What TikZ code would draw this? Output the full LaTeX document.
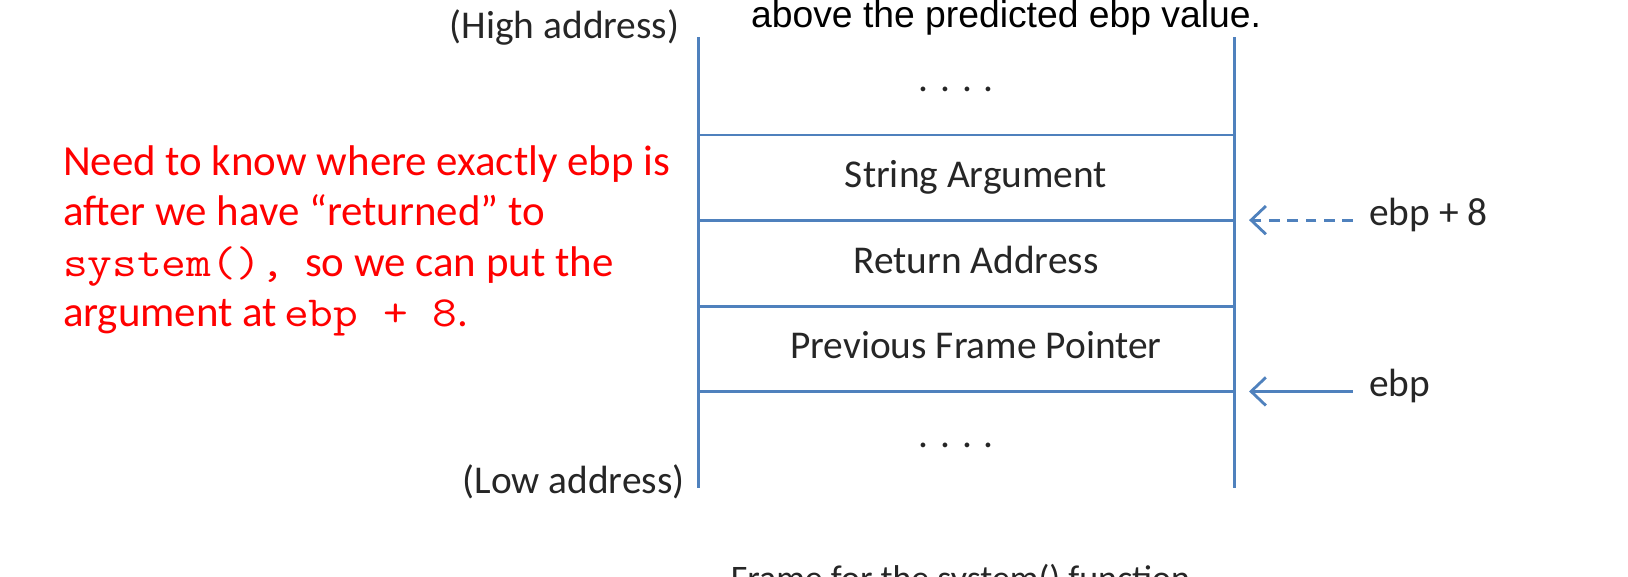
\documentclass[tikz,border=0pt]{standalone}
\usepackage{fontspec}
\setmainfont{Carlito}
\newfontfamily\arialf{Liberation Sans}
\usetikzlibrary{arrows.meta}
\definecolor{stackblue}{RGB}{79,129,189}
\definecolor{notered}{RGB}{255,0,0}
\newcommand{\cour}[1]{\scalebox{1.12}[1]{\ttfamily #1}}
\tikzset{
  stackline/.style={draw=stackblue, line width=0.8pt},
  celltext/.style={inner sep=0pt, anchor=base, font=\fontsize{11.2}{13}\selectfont, text=black!85},
  addr/.style={inner sep=0pt, anchor=base east, font=\fontsize{11.2}{13}\selectfont, text=black!85},
  ptrlbl/.style={inner sep=0pt, anchor=base west, font=\fontsize{11.2}{13}\selectfont, text=black!85},
  ptrarrow/.style={draw=stackblue, line width=0.8pt, -{Straight Barb[length=4.2pt,width=8pt,line width=0.8pt]}},
  note/.style={inner sep=0pt, anchor=base west, font=\fontsize{12.2}{14}\selectfont, text=notered},
}
\begin{document}
\begin{tikzpicture}[x=0.010383cm,y=-0.010383cm]
\useasboundingbox (0,0) rectangle (1568,555.7);
\clip (0,0) rectangle (1568,555.7);
\fill[white] (0,0) rectangle (1568,555.7);

% stack frame
\coordinate (lt) at (673,36);
\coordinate (lb) at (673,470);
\coordinate (rt) at (1189,36);
\coordinate (rb) at (1189,470);
\draw[stackline] (lt) -- (lb);
\draw[stackline] (rt) -- (rb);
\foreach \yy/\nm in {130/h1,212/h2,295/h3,377/h4}{
  \coordinate (\nm l) at (673,\yy);
  \coordinate (\nm r) at (1189,\yy);
  \draw[stackline] (\nm l) -- (\nm r);
}

\node[celltext] (dotstop) at (921,88) {. . . .};
\node[celltext] (strarg) at (940,181) {String Argument};
\node[celltext] (retaddr) at (940,263) {Return Address};
\node[celltext] (prevfp) at (940,345) {Previous Frame Pointer};
\node[celltext] (dotsbot) at (921,431) {. . . .};

\node[addr] (high) at (655,37) {(High address)};
\node[addr] (low) at (660,475) {(Low address)};

% pointers
\node[ptrlbl] (ebp8) at (1318,217) {ebp + 8};
\node[ptrlbl] (ebp) at (1318,382) {ebp};
\coordinate (a8s) at (1303,212);
\coordinate (a8e) at (1203,212);
\coordinate (a0s) at (1303,377);
\coordinate (a0e) at (1203,377);
\draw[ptrarrow, dash pattern=on 3pt off 2.2pt] (a8s) -- (a8e);
\draw[ptrarrow] (a0s) -- (a0e);

% red note
\node[note] (n1) at (60,169) {Need to know where exactly ebp is};
\node[note] (n2) at (60,217) {after we have “returned” to};
\node[note] (n3) at (60,266) {\cour{system(),}\ \ so we can put the};
\node[note] (n4) at (60,314) {argument at\,\cour{ebp + 8}.};

% clipped texts
\node[inner sep=0pt, anchor=base, font=\arialf\fontsize{10.6}{12}\selectfont] (toptext) at (969,26) {above the predicted ebp value.};
\node[inner sep=0pt, anchor=base, font=\fontsize{10.2}{12}\selectfont, text=black!85] (caption) at (925,569) {Frame for the system() function};
\end{tikzpicture}
\end{document}
